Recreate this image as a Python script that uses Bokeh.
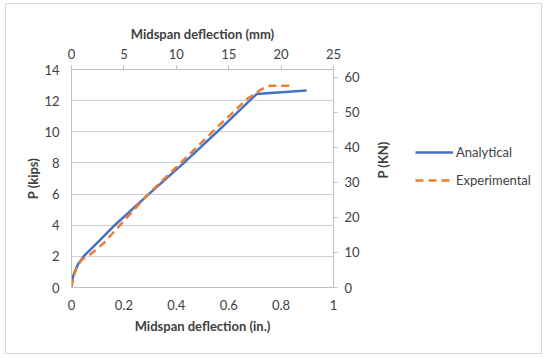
import math
from bokeh.plotting import figure
from bokeh.layouts import row
from bokeh.models import Range1d, LinearAxis, FixedTicker, Legend, LegendItem
from bokeh.embed import file_html
from bokeh.resources import INLINE

# Data (deflection in inches, load in kips)
ana_x = [0.0, 0.004, 0.012, 0.025, 0.046, 0.1, 0.165, 0.295, 0.429, 0.556, 0.706, 0.897]
ana_y = [0.0, 0.6, 1.0, 1.5, 2.0, 2.9, 4.0, 6.0, 8.0, 10.0, 12.42, 12.65]
exp_x = [0.0, 0.006, 0.02, 0.04, 0.07, 0.12, 0.18, 0.29, 0.42, 0.55, 0.67, 0.728, 0.756, 0.847]
exp_y = [0.0, 0.6, 1.3, 1.8, 2.1, 2.8, 3.9, 5.95, 8.05, 10.2, 12.1, 12.76, 12.95, 12.95]

x_ticks = [0, 0.2, 0.4, 0.6, 0.8, 1]
y_ticks = [0, 2, 4, 6, 8, 10, 12, 14]
mm_ticks = [0, 5, 10, 15, 20, 25]
kn_ticks = [0, 10, 20, 30, 40, 50, 60]

FONT = "Lato"
GRID = "#d0d0d0"
AX = "#bfbfbf"
TXT = "#404040"
BORDER = "1px solid #d9d9d9"

p = figure(width=400, height=349, output_backend="svg", toolbar_location=None,
           x_range=Range1d(0, 1), y_range=Range1d(0, 14),
           min_border_left=65, min_border_right=73, min_border_top=65, min_border_bottom=66)
p.extra_x_ranges = {"mm": Range1d(0, 25)}
p.extra_y_ranges = {"kn": Range1d(0, 14 * 4.448)}
p.outline_line_color = None
p.xgrid.grid_line_color = None
p.ygrid.grid_line_color = GRID
p.ygrid.ticker = FixedTicker(ticks=y_ticks)

def style(ax, label, tin=0, tout=0):
    ax.axis_label = label
    ax.axis_label_text_font = FONT
    ax.axis_label_text_font_style = "bold"
    ax.axis_label_text_font_size = "13px"
    ax.axis_label_text_color = TXT
    ax.major_label_text_font = FONT
    ax.major_label_text_font_size = "13px"
    ax.major_label_text_color = TXT
    ax.axis_line_color = AX
    ax.major_tick_line_color = AX
    ax.major_tick_in = tin
    ax.major_tick_out = tout
    ax.minor_tick_line_color = None

bottom = p.xaxis[0]
bottom.ticker = FixedTicker(ticks=x_ticks)
style(bottom, "Midspan deflection (in.)")
bottom.major_label_standoff = 12
bottom.axis_label_standoff = 5
left = p.yaxis[0]
left.ticker = FixedTicker(ticks=y_ticks)
style(left, "P (kips)")
left.major_label_standoff = 12
left.axis_label_standoff = 0

top = LinearAxis(x_range_name="mm", ticker=FixedTicker(ticks=mm_ticks))
style(top, "Midspan deflection (mm)", tout=4)
top.major_label_standoff = 7
top.axis_label_standoff = 4
p.add_layout(top, "above")

right = LinearAxis(y_range_name="kn", ticker=FixedTicker(ticks=kn_ticks))
style(right, "P (KN)", tout=4)
right.major_label_standoff = 7
right.axis_label_standoff = 20
right.axis_label_orientation = math.pi / 2
p.add_layout(right, "right")

ana_style = dict(line_color="#4472c4", line_width=2.5)
exp_style = dict(line_color="#ed7d31", line_width=2.5, line_dash="8 5")
p.line(ana_x, ana_y, **ana_style)
p.line(exp_x, exp_y, **exp_style)

# Legend panel (same series, drawn outside its view so only the legend shows)
lp = figure(width=135, height=349, output_backend="svg", toolbar_location=None,
            x_range=Range1d(5, 6), y_range=Range1d(0, 14),
            x_axis_type=None, y_axis_type=None, min_border=0)
lp.outline_line_color = None
lp.grid.grid_line_color = None
l1 = lp.line(ana_x, ana_y, **ana_style)
l2 = lp.line(exp_x, exp_y, **exp_style)
legend = Legend(items=[LegendItem(label="Analytical", renderers=[l1]),
                       LegendItem(label="Experimental", renderers=[l2])],
                location=(9, 97))
legend.label_text_font = FONT
legend.label_text_font_size = "13px"
legend.label_text_color = TXT
legend.glyph_width = 38
legend.glyph_height = 20
legend.spacing = 8
legend.label_standoff = 3
legend.margin = 0
legend.padding = 0
legend.border_line_color = None
legend.background_fill_alpha = 0
lp.add_layout(legend, "center")

layout = row(p, lp, styles={"border": BORDER, "margin-left": "5px", "margin-top": "3px"})

open("out.html", "w").write(file_html(layout, INLINE))
